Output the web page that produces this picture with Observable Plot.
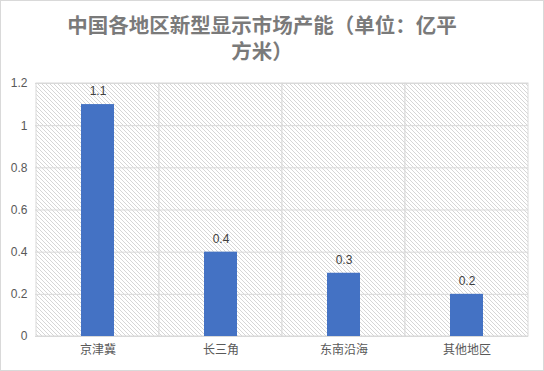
<!DOCTYPE html>
<html>
<head>
<meta charset="utf-8">
<script src="https://cdn.jsdelivr.net/npm/d3@7"></script>
<script src="https://cdn.jsdelivr.net/npm/@observablehq/plot@0.6"></script>
<style>
  html, body { margin: 0; padding: 0; background: #fff; }
  #wrap { width: 542px; height: 369px; border: 1px solid #d9d9d9; position: relative; overflow: hidden; }
  #title { position: absolute; left: 62px; top: 10px; width: 398px; text-align: center;
    font-family: "Noto Sans CJK SC", sans-serif; font-weight: bold; font-size: 20.5px; line-height: 26px; color: #7a7a7a; }
  #chart { position: absolute; left: 0; top: 62px; }
</style>
</head>
<body>
<div id="wrap">
  <div id="title">中国各地区新型显示市场产能（单位：亿平方米）</div>
  <div id="chart"></div>
</div>
<script>
const categories = ["京津冀", "长三角", "东南沿海", "其他地区"];
const values = [1.1, 0.4, 0.3, 0.2];
const yTicks = [0, 0.2, 0.4, 0.6, 0.8, 1, 1.2];
const yTickLabels = ["0", "0.2", "0.4", "0.6", "0.8", "1", "1.2"];

const data = categories.map((c, i) => ({category: c, value: values[i]}));

const plot = Plot.plot({
  width: 542,
  height: 307,
  marginTop: 20,
  marginBottom: 34,
  marginLeft: 34,
  marginRight: 15,
  style: {fontFamily: "'Liberation Sans', 'Noto Sans CJK SC', sans-serif", fontSize: "12px", color: "#595959", background: "transparent"},
  x: {domain: categories, padding: 0, label: null, tickSize: 0, tickPadding: 9},
  y: {domain: [0, 1.2], ticks: yTicks, tickFormat: (d) => yTickLabels[yTicks.indexOf(d)] ?? String(d), label: null, tickSize: 0, tickPadding: 8},
  marks: [
    Plot.cell(categories, {x: (d) => d, fill: "url(#hatch)", stroke: "#d9d9d9", strokeWidth: 1}),
    Plot.gridY(yTicks, {stroke: "#d9d9d9", strokeOpacity: 1, strokeWidth: 1}),
    Plot.barY(data, {x: "category", y: "value", fill: "#4472C4", insetLeft: 45, insetRight: 45}),
    Plot.text(data, {x: "category", y: "value", text: (d) => String(d.value), dy: -13, fill: "#404040", fontSize: 12})
  ]
});

const defs = d3.select(plot).insert("defs", ":first-child");
const pat = defs.append("pattern").attr("id", "hatch").attr("patternUnits", "userSpaceOnUse")
  .attr("width", 4).attr("height", 4);
pat.append("rect").attr("width", 4).attr("height", 4).attr("fill", "#fff");
pat.append("path").attr("d", "M-1,-1 L5,5 M-1,3 L1,5 M3,-1 L5,1")
  .attr("stroke", "#d6d6d6").attr("stroke-width", 1).attr("fill", "none");

document.getElementById("chart").appendChild(plot);
</script>
</body>
</html>
